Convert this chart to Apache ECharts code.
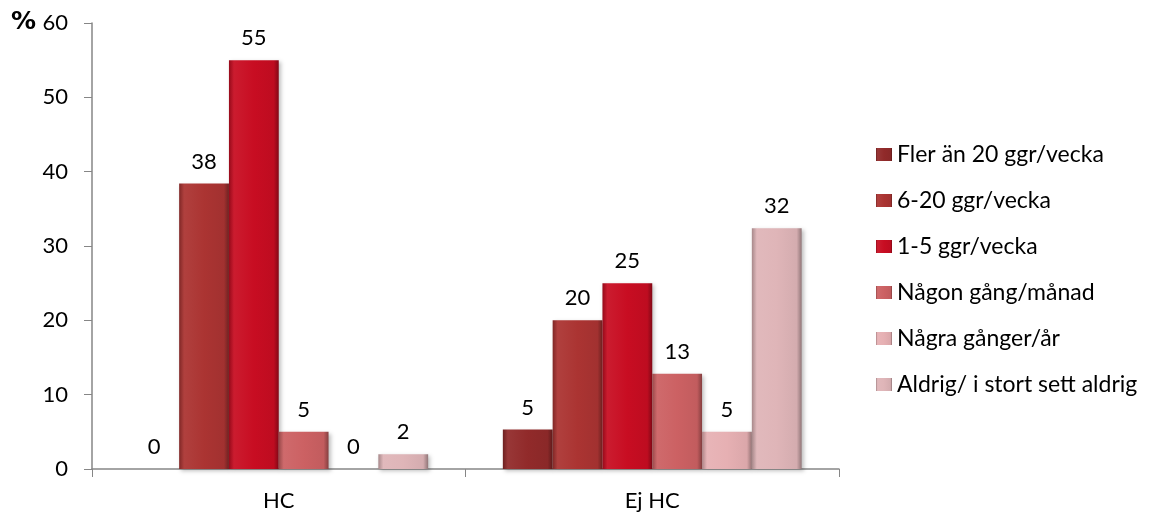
<!DOCTYPE html>
<html>
<head>
<meta charset="utf-8">
<style>
  html, body { margin: 0; padding: 0; background: #fff; }
  #chart { width: 1159px; height: 524px; }
</style>
<script src="https://cdn.jsdelivr.net/npm/echarts@6/dist/echarts.min.js"></script>
</head>
<body>
<div id="chart"></div>
<script>
// data
const categories = ['HC', 'Ej HC'];
const seriesNames = [
  'Fler än 20 ggr/vecka',
  '6-20 ggr/vecka',
  '1-5 ggr/vecka',
  'Någon gång/månad',
  'Några gånger/år',
  'Aldrig/ i stort sett aldrig'
];
const flerAn20 = [0, 5.3];
const sexTill20 = [38.4, 20];
const ettTill5 = [55, 25];
const nagonGangManad = [5, 12.8];
const nagraGangerAr = [0, 5];
const aldrig = [2, 32.4];
const yTicks = [0, 10, 20, 30, 40, 50, 60];

const values = [flerAn20, sexTill20, ettTill5, nagonGangManad, nagraGangerAr, aldrig];
const colors = ['#912a2a', '#ab3432', '#c80d22', '#cc6163', '#e6b0b3', '#dfb5b8'];

function shade(hex, f) {
  const n = parseInt(hex.slice(1), 16);
  let r = n >> 16, g = (n >> 8) & 255, b = n & 255;
  const t = f < 0 ? 0 : 255, p = Math.abs(f);
  r = Math.round((t - r) * p + r);
  g = Math.round((t - g) * p + g);
  b = Math.round((t - b) * p + b);
  return 'rgb(' + r + ',' + g + ',' + b + ')';
}

const font = 'Lato, "Open Sans", sans-serif';
const chart = echarts.init(document.getElementById('chart'));

chart.setOption({
  animation: false,
  textStyle: { fontFamily: font },
  grid: { left: 92, right: 320, top: 23, bottom: 55 },
  graphic: [{
    type: 'text',
    left: 11,
    top: 10,
    style: { text: '%', fontSize: 25, fontWeight: 'bold', fontFamily: '"DejaVu Sans"', fill: '#000' }
  }],
  legend: {
    orient: 'vertical',
    left: 871,
    top: 138,
    itemWidth: 16,
    itemHeight: 13,
    itemGap: 23,
    icon: 'rect',
    textStyle: { fontSize: 23, color: '#000', fontFamily: font },
    data: seriesNames
  },
  xAxis: {
    type: 'category',
    data: categories,
    axisLine: { lineStyle: { color: '#868686', width: 1.5 } },
    axisTick: { show: true, length: 8, lineStyle: { color: '#868686' } },
    axisLabel: { color: '#000', fontSize: 22, margin: 21 }
  },
  yAxis: {
    type: 'value',
    min: 0,
    max: 60,
    interval: 10,
    splitLine: { show: false },
    axisLine: { show: true, lineStyle: { color: '#868686', width: 1.5 } },
    axisTick: { show: true, length: 8, lineStyle: { color: '#868686' } },
    axisLabel: {
      color: '#000', fontSize: 22, margin: 24,
      formatter: v => yTicks.indexOf(v) >= 0 ? String(v) : ''
    }
  },
  series: seriesNames.map((name, i) => ({
    name: name,
    type: 'bar',
    barGap: '0%',
    barCategoryGap: '20%',
    data: values[i],
    itemStyle: {
      color: new echarts.graphic.LinearGradient(0, 0, 1, 0, [
        { offset: 0, color: shade(colors[i], -0.25) },
        { offset: 0.1, color: shade(colors[i], 0.06) },
        { offset: 0.5, color: colors[i] },
        { offset: 0.9, color: shade(colors[i], -0.05) },
        { offset: 1, color: shade(colors[i], -0.35) }
      ]),
      shadowColor: 'rgba(0,0,0,0.25)',
      shadowBlur: 4,
      shadowOffsetX: 2,
      shadowOffsetY: 2
    },
    label: {
      show: true,
      position: 'top',
      distance: 11,
      color: '#000',
      fontSize: 22,
      formatter: p => String(Math.round(p.value))
    }
  }))
});
</script>
</body>
</html>
